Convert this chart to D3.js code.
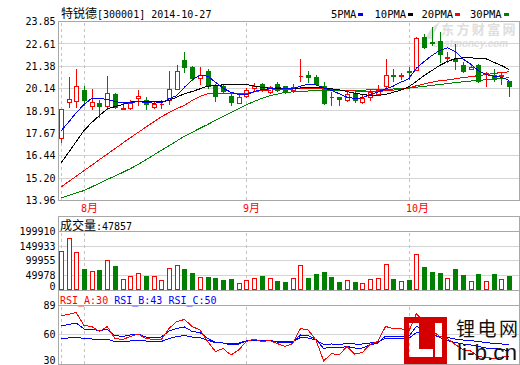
<!DOCTYPE html>
<html>
<head>
<meta charset="utf-8">
<script src="https://cdn.jsdelivr.net/npm/d3@7"></script>
<style>
  body { margin: 0; background: #fff; }
  svg { display: block; }
</style>
</head>
<body>
<svg id="root" width="520" height="365"></svg>
<script>
// trading days shown (2014)
const dates = [
  "07-29","07-30","07-31",
  "08-01","08-04","08-05","08-06","08-07","08-08","08-11","08-12","08-13","08-14","08-15",
  "08-18","08-19","08-20","08-21","08-22","08-25","08-26","08-27","08-28","08-29",
  "09-01","09-02","09-03","09-04","09-05","09-09","09-10","09-11","09-12","09-15","09-16",
  "09-17","09-18","09-19","09-22","09-23","09-24","09-25","09-26","09-29","09-30",
  "10-08","10-09","10-10","10-13","10-14","10-15","10-16","10-17","10-20","10-21",
  "10-22","10-23","10-24","10-27"
];

const open = [17.42,19.41,19.43,20.04,19.19,19.32,19.19,19.87,19.03,19.08,
  19.61,19.54,19.10,19.29,19.49,20.13,21.73,21.33,20.74,21.10,
  20.34,20.31,19.76,19.36,19.71,20.19,20.41,19.94,20.41,20.26,
  20.07,20.82,20.87,20.81,20.26,19.69,19.67,19.50,19.89,19.39,
  19.67,19.86,20.31,20.89,20.85,21.10,21.18,23.02,22.73,22.80,
  21.85,21.79,21.46,21.24,21.46,20.95,20.87,20.85,20.54];
const high = [19.03,20.77,21.20,20.26,20.13,19.50,20.83,19.89,19.35,19.54,
  20.09,19.67,19.43,19.49,21.14,21.46,22.19,21.40,21.36,21.20,
  20.42,20.40,19.86,19.82,20.19,20.44,20.45,20.28,20.48,20.30,
  20.37,21.79,21.09,20.87,20.50,19.94,19.70,20.04,19.94,19.80,
  20.09,20.35,21.79,21.24,21.02,21.33,22.97,23.17,23.55,23.25,
  22.15,22.62,21.60,21.51,21.51,21.05,21.24,21.05,20.56];
const low = [17.18,19.12,19.15,19.26,18.99,18.56,19.03,19.08,19.00,19.03,
  19.21,19.03,19.05,19.08,19.30,20.10,21.05,20.60,20.41,20.20,
  19.43,19.95,19.21,19.33,19.68,20.04,20.02,19.90,20.00,19.90,
  19.93,20.54,20.50,20.38,19.28,19.21,19.21,19.45,19.39,19.34,
  19.49,19.82,20.19,20.54,20.65,20.68,21.15,22.40,22.55,21.60,
  21.60,21.24,21.05,21.20,20.50,20.28,20.55,20.41,19.76];
const close = [19.03,19.58,20.31,19.49,19.39,19.17,19.91,19.15,19.06,19.36,
  19.71,19.30,19.30,19.31,20.13,21.14,21.33,20.72,20.92,20.26,
  19.72,20.01,19.39,19.67,20.08,20.31,20.08,20.22,20.09,19.94,
  20.23,20.85,20.76,20.41,19.34,19.66,19.58,19.82,19.52,19.61,
  19.94,20.04,20.91,20.86,20.88,21.08,22.95,22.43,22.68,22.07,
  21.90,21.64,21.10,21.36,20.59,20.98,20.65,20.88,20.31];
const volume = [133600,177000,129000,72000,65000,68500,102800,82200,37700,48000,
  57100,48000,48000,34300,74200,84500,72000,59400,44500,45700,
  42300,35400,37700,24000,34300,40000,48000,40000,30800,28500,
  40000,84500,41100,54800,61700,44500,27400,33100,27400,22800,
  38800,40000,87900,37700,30800,34300,123300,78800,61700,58200,
  40000,72000,51400,30800,54800,30800,54800,36500,47857];

// moving averages as drawn
const ma5 = [17.79,18.29,18.81,19.26,19.61,19.61,19.54,19.43,19.36,19.37,
  19.43,19.37,19.34,19.36,19.58,19.76,20.22,20.63,20.87,20.83,
  20.50,20.16,19.94,19.82,19.80,19.98,20.09,20.13,20.19,20.16,
  20.13,20.28,20.39,20.35,20.19,20.04,19.86,19.67,19.60,19.63,
  19.82,19.94,20.13,20.28,20.50,20.68,21.27,21.64,21.97,22.25,
  22.40,22.20,21.79,21.50,21.14,20.91,20.83,20.77,20.59];
const ma10 = [16.02,16.61,17.22,17.83,18.27,18.66,19.02,19.15,19.26,19.40,
  19.43,19.43,19.42,19.40,19.49,19.67,19.86,19.98,20.13,20.28,
  20.31,20.35,20.35,20.37,20.37,20.28,20.22,20.16,20.13,20.13,
  20.13,20.18,20.22,20.22,20.18,20.13,20.08,19.98,19.89,19.82,
  19.77,19.76,19.82,19.94,20.06,20.24,20.54,20.87,21.14,21.42,
  21.64,21.79,21.84,21.84,21.82,21.79,21.60,21.42,21.20];
const ma20 = [14.70,15.00,15.30,15.61,15.91,16.22,16.52,16.82,17.13,17.43,
  17.72,18.01,18.30,18.58,18.82,19.04,19.22,19.49,19.71,19.86,
  19.87,19.87,19.87,19.87,19.88,19.96,20.04,20.06,20.08,20.10,
  20.12,20.14,20.15,20.15,20.13,20.10,20.07,20.04,20.01,19.99,
  19.98,19.99,20.02,20.06,20.12,20.18,20.30,20.40,20.50,20.58,
  20.62,20.68,20.75,20.80,20.86,20.92,20.98,21.03,21.07];
const ma30 = [14.10,14.24,14.38,14.51,14.71,14.92,15.12,15.31,15.51,15.72,
  15.95,16.21,16.47,16.73,16.99,17.25,17.51,17.73,17.95,18.16,
  18.39,18.60,18.82,19.04,19.25,19.43,19.60,19.75,19.84,19.93,
  19.96,19.99,20.01,20.03,20.04,20.05,20.05,20.05,20.05,20.06,
  20.07,20.08,20.10,20.12,20.14,20.17,20.22,20.27,20.32,20.37,
  20.42,20.47,20.52,20.56,20.60,20.63,20.67,20.71,20.74];

const rsiA = [79,80,82,69,68,63,68,56,55,58,
  60.5,56,55,55,66,73,75,68,64.5,53,
  43,46,39.5,44.5,53,55.5,53,54,51,48,
  51,66,64.5,54.5,33.5,41,39.5,48,40.5,42,
  50,53,68,66,66,63,81,72,64,58,
  56,50,45,43.5,38,37,36,37,38.5];
const rsiB = [68.5,70,71.5,65.5,65,64,65,59,58,59.5,
  60.5,57.5,57.5,57.5,63.5,66,67.5,63,62,56,
  52,51.5,49.5,50.5,53.5,54,53.5,54,52.5,51.5,
  52.5,59.5,59,55,46,47.5,46.5,48,46.5,46.5,
  49.5,51.5,58.5,58.5,58.5,58,68,65,61,57,
  54,52,50.5,49.5,48,46.5,46,45,44];
const rsiC = [55.5,56.5,57.5,56,55.5,54.5,55.5,53,53,53.5,
  54.5,53.5,53.5,53,56,58,59,57.5,57,54,
  52,51.5,50.5,51.5,53.5,54,53.5,54,53,52.5,
  53,57,56.5,54.5,50,50.5,50,51,50.5,50.5,
  51.5,52.5,56,56,56,56,62,61,59,58,
  57,55.5,54.5,54,53,52,51,50.5,50];

const priceTicks = [13.96, 15.20, 16.44, 17.67, 18.91, 20.14, 21.38, 22.61, 23.85];
const volumeTicks = [0, 49978, 99955, 149933, 199910];
const rsiTicks = [30, 60, 89];
const monthStarts = ["07-29", "08-01", "09-01", "10-08"];
const monthLabels = ["", "8", "9", "10"];

const MONO = "DejaVu Sans Mono";
const CJK = "Noto Sans CJK SC";
const RED = "#ff0000", GREEN = "#008000", BLUE = "#0000ff";
const FRAME = "#a8a8a8", GRID = "#d4d4d4";

const svg = d3.select("#root");
const left = 58.5, right = 519.5;
const pricePanel = { top: 21.5, bottom: 200.5 };
const volPanel = { head: 216.5, top: 231.5, bottom: 290 };
const rsiPanel = { head: 290.5, top: 305.5, bottom: 364.5 };

const x = d3.scalePoint().domain(dates).range([60.8, 509.2]);
const yPrice = d3.scaleLinear().domain([13.96, 23.85]).range([pricePanel.bottom, pricePanel.top]);
const yVol = d3.scaleLinear().domain([0, 199910]).range([volPanel.bottom, volPanel.top]);
const yRsi = d3.scaleLinear().domain([30, 89]).range([rsiPanel.bottom, rsiPanel.top]);

const rows = dates.map((d, i) => ({
  date: d, o: open[i], h: high[i], l: low[i], c: close[i], v: volume[i]
}));
const px = d => Math.round(x(d));
const snap = v => Math.floor(v) + 0.5;

// watermark (behind everything)
const wm = svg.append("g").attr("fill", "#dedede").attr("font-weight", "bold");
wm.append("text").attr("x", 441).attr("y", 33.5)
  .attr("font-family", CJK).attr("font-size", 13).attr("letter-spacing", 2.4).text("东方财富网");
wm.append("text").attr("x", 433).attr("y", 47)
  .attr("font-family", "Liberation Sans").attr("font-size", 10)
  .attr("font-style", "italic").text("eastmoney.com");
wm.append("path").attr("d", "M426,38 C430,28 436,24 440,22 C436,28 434,33 433,40 Z");

// frames and grid
const grid = svg.append("g").attr("shape-rendering", "crispEdges").attr("fill", "none");
const hline = (y, color) => grid.append("line")
  .attr("x1", left).attr("x2", right).attr("y1", y).attr("y2", y).attr("stroke", color);

priceTicks.slice(1, -1).forEach(v => hline(snap(yPrice(v)), GRID));
volumeTicks.slice(1, -1).forEach(v => hline(snap(yVol(v)), GRID));
hline(snap(yRsi(60)), GRID);

grid.append("rect").attr("x", left).attr("y", pricePanel.top)
  .attr("width", right - left).attr("height", pricePanel.bottom - pricePanel.top).attr("stroke", FRAME);
grid.append("rect").attr("x", left).attr("y", volPanel.head)
  .attr("width", right - left).attr("height", rsiPanel.bottom - volPanel.head).attr("stroke", FRAME);
hline(volPanel.top, FRAME);
hline(rsiPanel.head, FRAME);
hline(rsiPanel.top, FRAME);

// month dashed lines
[[pricePanel.top, pricePanel.bottom], [volPanel.top, volPanel.bottom], [rsiPanel.top, rsiPanel.bottom]]
  .forEach(([y1, y2]) => {
    grid.selectAll(null).data(monthStarts).join("line")
      .attr("x1", d => px(d) + 0.5).attr("x2", d => px(d) + 0.5)
      .attr("y1", y1 + 1).attr("y2", y2 - 1)
      .attr("stroke", "#c4c4c4").attr("stroke-dasharray", "3,3");
  });

// candles
const up = d => d.c >= d.o;
const candles = svg.append("g").attr("shape-rendering", "crispEdges");
candles.selectAll("line").data(rows).join("line")
  .attr("x1", d => px(d.date) + 0.5).attr("x2", d => px(d.date) + 0.5)
  .attr("y1", d => Math.round(yPrice(d.h))).attr("y2", d => Math.round(yPrice(d.l)) + 1)
  .attr("stroke", d => up(d) ? RED : GREEN);
candles.selectAll("path").data(rows).join("path")
  .attr("d", d => {
    const cx = px(d.date);
    const y1 = Math.round(yPrice(Math.max(d.o, d.c))) + 0.5;
    const y2 = Math.round(yPrice(Math.min(d.o, d.c))) + 0.5;
    return `M${cx - 1.5},${y1}H${cx + 2.5}V${y2}H${cx - 1.5}Z`;
  })
  .attr("fill", d => up(d) ? "#fff" : GREEN)
  .attr("stroke", d => up(d) ? RED : GREEN);

// moving averages
const maLine = d3.line().x((v, i) => x(dates[i])).y(v => yPrice(v));
[[ma30, GREEN], [ma20, RED], [ma10, "#000"], [ma5, BLUE]].forEach(([s, col]) => {
  svg.append("path").attr("d", maLine(s)).attr("fill", "none")
    .attr("stroke", col).attr("shape-rendering", "crispEdges");
});

// volume bars
const vols = svg.append("g").attr("shape-rendering", "crispEdges");
vols.selectAll("path").data(rows).join("path")
  .attr("d", d => {
    const cx = px(d.date);
    const top = Math.round(yVol(d.v)) + 0.5;
    return `M${cx - 1.5},${top}H${cx + 2.5}V${volPanel.bottom - 0.5}H${cx - 1.5}Z`;
  })
  .attr("fill", d => up(d) ? "#fff" : GREEN)
  .attr("stroke", d => up(d) ? RED : GREEN);

// RSI lines
const rsiLine = d3.line().x((v, i) => x(dates[i])).y(v => yRsi(v));
[[rsiC, BLUE], [rsiB, BLUE], [rsiA, RED]].forEach(([s, col]) => {
  svg.append("path").attr("d", rsiLine(s)).attr("fill", "none")
    .attr("stroke", col).attr("shape-rendering", "crispEdges");
});

// axes (labels only)
const styleAxis = g => g
  .attr("font-family", MONO).attr("font-size", 10)
  .call(g => g.select(".domain").remove());
svg.append("g").attr("transform", `translate(${left},0)`)
  .call(d3.axisLeft(yPrice).tickValues(priceTicks).tickFormat(d3.format(".2f")).tickSize(0).tickPadding(3))
  .call(styleAxis);
svg.append("g").attr("transform", `translate(${left},0)`)
  .call(d3.axisLeft(yVol).tickValues(volumeTicks).tickFormat(d3.format("d")).tickSize(0).tickPadding(3))
  .call(styleAxis)
  .call(g => g.selectAll(".tick text").filter(d => d === 0).attr("y", -4));
svg.append("g").attr("transform", `translate(${left},0)`)
  .call(d3.axisLeft(yRsi).tickValues(rsiTicks).tickFormat(d3.format("d")).tickSize(0).tickPadding(3))
  .call(styleAxis)
  .call(g => g.selectAll(".tick text").filter(d => d === 30).attr("y", -4));

// month labels
const ml = svg.append("g").attr("fill", RED);
monthStarts.forEach((d, i) => {
  if (!monthLabels[i]) return;
  const t = ml.append("text").attr("x", px(d) - 3).attr("y", 212);
  t.append("tspan").attr("font-family", MONO).attr("font-size", 10).text(monthLabels[i]);
  t.append("tspan").attr("font-family", CJK).attr("font-size", 11).text("月");
});

// title
const title = svg.append("text").attr("x", 61).attr("y", 17.5);
title.append("tspan").attr("font-family", CJK).attr("font-size", 12).text("特锐德");
title.append("tspan").attr("font-family", MONO).attr("font-size", 10).text("[300001] 2014-10-27");

// legend
const legend = [["5PMA", BLUE, 331], ["10PMA", "#000", 374.5], ["20PMA", RED, 421.5], ["30PMA", GREEN, 470]];
legend.forEach(([name, col, lx]) => {
  const t = svg.append("text").attr("x", lx).attr("y", 17.5)
    .attr("font-family", MONO).attr("font-size", 10.5).text(name);
  const w = t.node().getComputedTextLength();
  svg.append("rect").attr("x", Math.round(lx + w + 2)).attr("y", 13)
    .attr("width", 5).attr("height", 3).attr("fill", col);
});

// volume header
const vh = svg.append("text").attr("x", 60).attr("y", 229.5);
vh.append("tspan").attr("font-family", CJK).attr("font-size", 12).text("成交量");
vh.append("tspan").attr("font-family", MONO).attr("font-size", 10).text(":" + volume[volume.length - 1]);

// RSI header
const rh = svg.append("text").attr("x", 60).attr("y", 303.5)
  .attr("font-family", MONO).attr("font-size", 10).attr("xml:space", "preserve");
rh.append("tspan").attr("fill", RED).text("RSI_A:30 ");
rh.append("tspan").attr("fill", BLUE).text("RSI_B:43 ");
rh.append("tspan").attr("fill", BLUE).text("RSI_C:50");

// li-b.cn logo
const logo = svg.append("g");
logo.append("path")
  .attr("d", "M404,317 H447 V364 H404 Z M409,323 V357 H433 V349 H419 V323 Z M435,323 V357 H442 V323 Z")
  .attr("fill", "#d40000").attr("fill-rule", "evenodd");
logo.append("text").attr("x", 456).attr("y", 336)
  .attr("font-family", CJK).attr("font-size", 19).attr("letter-spacing", 2.5)
  .attr("fill", "#111").text("锂电网");
logo.append("text").attr("x", 457).attr("y", 360)
  .attr("font-family", "Liberation Sans").attr("font-size", 22)
  .attr("textLength", 60).attr("lengthAdjust", "spacingAndGlyphs")
  .attr("fill", "#111").text("li-b.cn");
</script>
</body>
</html>
